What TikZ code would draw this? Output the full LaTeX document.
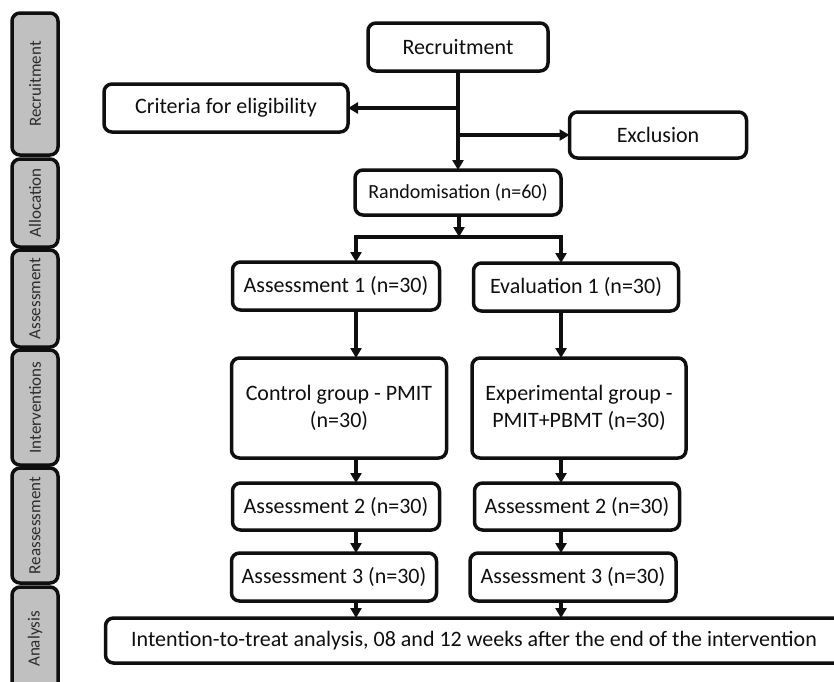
\documentclass[tikz,border=0pt]{standalone}
\usepackage{fontspec}
\setmainfont{Carlito}
\usepackage{tikz}
\usetikzlibrary{arrows.meta,positioning}
\usepackage{xcolor}
\definecolor{ink}{RGB}{15,15,15}
\definecolor{tabfill}{RGB}{192,192,192}
\definecolor{tabtext}{RGB}{45,45,45}
\tikzset{
  box/.style={draw=ink,line width=3.5pt,rounded corners=8pt,inner sep=2pt,outer sep=0pt,
    align=center,text=ink,font=\fontsize{22}{27}\selectfont},
  rnd/.style={font=\fontsize{20}{24}\selectfont},
  tab/.style={draw=ink,fill=tabfill,line width=3.5pt,rounded corners=8pt,rotate=90,
    minimum height=46pt,inner sep=0pt,outer sep=0pt,text=tabtext,font=\fontsize{17}{20}\selectfont},
  arr/.style={-{Triangle[length=10pt,width=11pt]},line width=3.2pt,ink},
}

\begin{document}
\begin{tikzpicture}[x=1pt,y=-1pt]
\clip (0,0) rectangle (834,681);
\fill[white] (0,0) rectangle (834,681);

% phase tabs
\node[tab,minimum width=142pt] (tRec) at (35,84) {Recruitment};
\node[tab,minimum width=88pt] (tAll) at (35,203) {Allocation};
\node[tab,minimum width=97pt] (tAss) at (35,298.5) {Assessment};
\node[tab,minimum width=115pt] (tInt) at (35,407.5) {Interventions};
\node[tab,minimum width=115pt] (tRea) at (35,525.5) {Reassessment};
\node[tab,minimum width=104pt] (tAna) at (35,639) {Analysis};

% recruitment and allocation
\node[box,minimum width=180pt,minimum height=48pt] (R) at (458,47) {Recruitment};
\node[box,minimum width=244pt,minimum height=48pt] (C) at (226,108) {Criteria for eligibility};
\node[box,minimum width=177pt,minimum height=46pt] (E) at (658,135) {Exclusion};
\node[box,rnd,minimum width=206pt,minimum height=45pt,below=99pt of R] (Rd) {Randomisation (n=60)};

% left arm
\node[box,minimum width=207pt,minimum height=48pt] (A1) at (336,286) {Assessment 1 (n=30)};
\node[box,minimum width=215pt,minimum height=100pt,below=48pt of A1,xshift=3pt] (Ctl)
  {Control group - PMIT\\(n=30)};
\node[box,minimum width=207pt,minimum height=47pt,below=25pt of Ctl,xshift=-3pt] (A2) {Assessment 2 (n=30)};
\node[box,minimum width=205pt,minimum height=48pt,below=23pt of A2,xshift=-2pt] (A3) {Assessment 3 (n=30)};

% right arm
\node[box,minimum width=205pt,minimum height=48pt] (E1) at (576,287) {Evaluation 1 (n=30)};
\node[box,minimum width=214pt,minimum height=100pt,below=47pt of E1,xshift=3pt] (Exp)
  {Experimental group -\\PMIT+PBMT (n=30)};
\node[box,minimum width=205pt,minimum height=47pt,below=25pt of Exp,xshift=-2pt] (A2r) {Assessment 2 (n=30)};
\node[box,minimum width=206pt,minimum height=48pt,below=23pt of A2r,xshift=-4pt] (A3r) {Assessment 3 (n=30)};

% analysis
\node[box,minimum width=737pt,minimum height=45pt] (ITT) at (474,640.5)
  {Intention-to-treat analysis, 08 and 12 weeks after the end of the intervention};

% columns of the arms
\coordinate (split) at (459,237);
\coordinate (colL) at (356,237);
\coordinate (colR) at (561,237);

% edges
\draw[arr] (R) -- (Rd);
\draw[arr] (C.east -| R.south) -- (C.east);
\draw[arr] (E.west -| R.south) -- (E.west);
\draw[arr] (Rd.south -| split) -- (split);
\draw[arr] (split) -| (colL |- A1.north);
\draw[arr] (split) -| (colR |- E1.north);
\draw[arr] (A1.south -| colL) -- (Ctl.north -| colL);
\draw[arr] (Ctl.south -| colL) -- (A2.north -| colL);
\draw[arr] (A2.south -| colL) -- (A3.north -| colL);
\draw[arr] (A3.south -| colL) -- (ITT.north -| colL);
\draw[arr] (E1.south -| colR) -- (Exp.north -| colR);
\draw[arr] (Exp.south -| colR) -- (A2r.north -| colR);
\draw[arr] (A2r.south -| colR) -- (A3r.north -| colR);
\draw[arr] (A3r.south -| colR) -- (ITT.north -| colR);
\end{tikzpicture}
\end{document}
